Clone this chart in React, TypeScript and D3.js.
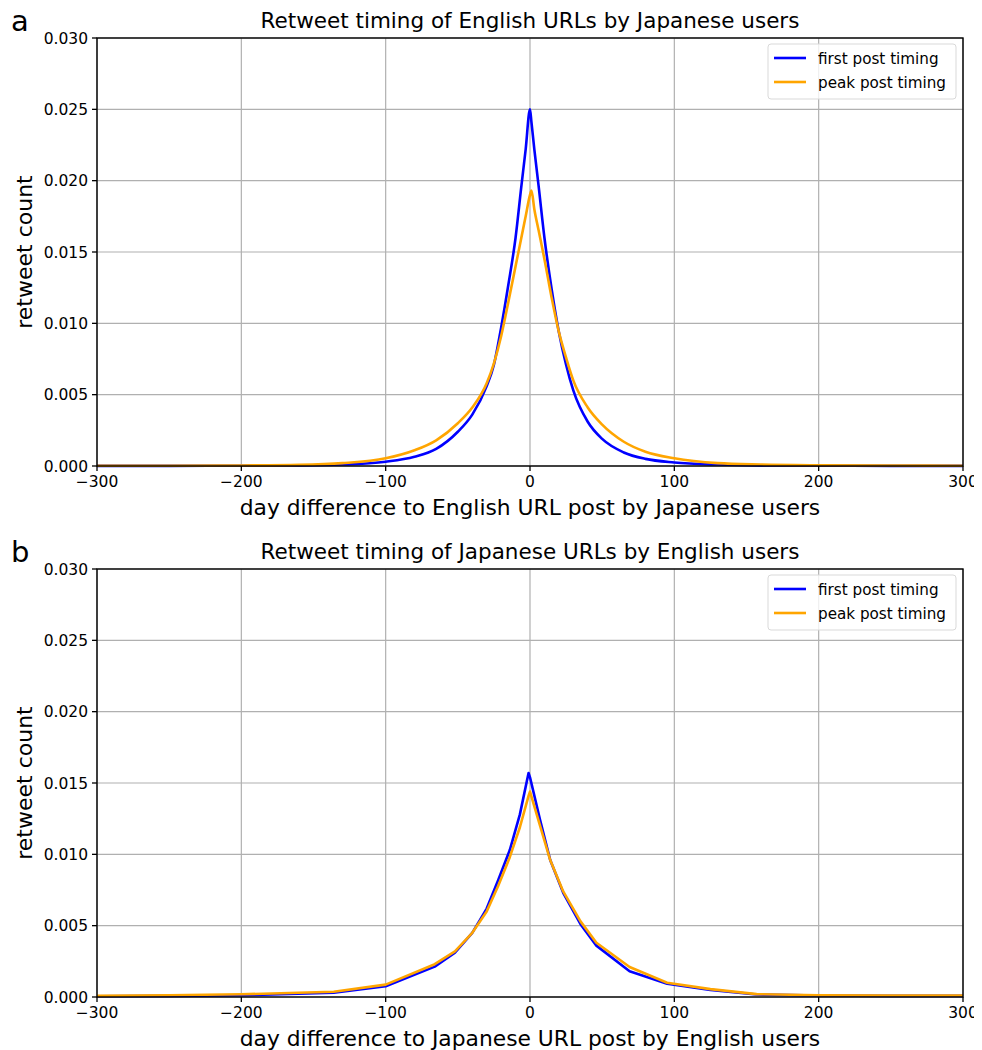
import React from 'react';
import * as d3 from 'd3';

// panel a: English URLs retweeted by Japanese users
const daysA = [-300, -250, -200, -160, -130, -100, -80, -65, -50, -40, -30, -25, -20, -15, -10, -6, -3, 0, 1, 3, 6, 10, 15, 20, 25, 30, 40, 50, 65, 80, 100, 130, 160, 200, 250, 300];
const firstA = [0.00001, 0.00001, 0.00002, 0.00004, 0.0001, 0.0003, 0.00065, 0.0012, 0.0024, 0.0036, 0.0056, 0.0071, 0.0097, 0.0127, 0.016, 0.0196, 0.0222, 0.025, 0.0241, 0.0222, 0.0196, 0.016, 0.0124, 0.0094, 0.0071, 0.0053, 0.0031, 0.0019, 0.00095, 0.0005, 0.00025, 0.0001, 0.00004, 0.00002, 0.00001, 0.00001];
const peakA = [0.00002, 0.00002, 0.00004, 0.00008, 0.0002, 0.00054, 0.0011, 0.0018, 0.003, 0.0041, 0.0058, 0.0072, 0.0091, 0.0115, 0.014, 0.016, 0.0175, 0.019, 0.0193, 0.018, 0.0165, 0.0145, 0.0118, 0.0094, 0.0076, 0.006, 0.0041, 0.0029, 0.0017, 0.001, 0.00054, 0.0002, 0.0001, 0.00005, 0.00003, 0.00002];

// panel b: Japanese URLs retweeted by English users
const daysB = [-300, -250, -200, -136, -100, -66, -52, -40, -30, -22, -14, -7, -1, 0, 7, 14, 23, 35, 46, 69, 95, 125, 157, 200, 250, 300];
const firstB = [0.00005, 0.00008, 0.00012, 0.0003, 0.00075, 0.00213, 0.0031, 0.0045, 0.0062, 0.0082, 0.0103, 0.0128, 0.0157, 0.0154, 0.0124, 0.0096, 0.0073, 0.0051, 0.0036, 0.0018, 0.00093, 0.0005, 0.00017, 0.0001, 0.00008, 0.00008];
const peakB = [0.00008, 0.00012, 0.00019, 0.00037, 0.00087, 0.0023, 0.0032, 0.0045, 0.006, 0.0078, 0.0098, 0.0119, 0.0141, 0.0144, 0.012, 0.0096, 0.0074, 0.0053, 0.0038, 0.0021, 0.001, 0.00055, 0.0002, 0.00012, 0.0001, 0.0001];

const xTicks = [-300, -200, -100, 0, 100, 200, 300];
const yTicks = [0, 0.005, 0.01, 0.015, 0.02, 0.025, 0.03];
const seriesNames = ['first post timing', 'peak post timing'];
const colors = ['#0000ff', '#ffa500'];

const FONT = 'DejaVu Sans, sans-serif';
const left = 97, right = 963;

type PanelProps = {
  top: number;
  letter: string;
  title: string;
  xlabel: string;
  days: number[];
  series: number[][];
  smooth: boolean;
};

const Panel = ({ top, letter, title, xlabel, days, series, smooth }: PanelProps) => {
  const h = 428;
  const x = d3.scaleLinear().domain([-300, 300]).range([left, right]);
  const y = d3.scaleLinear().domain([0, 0.03]).range([top + h, top]);
  const line = d3.line<number>()
    .x((_, i) => x(days[i]))
    .y(d => y(d))
    .curve(smooth ? d3.curveMonotoneX : d3.curveLinear);
  const fmt = (v: number) => String(v).replace('-', '\u2212');

  return (
    <g>
      <text x={11} y={top - 7} fontSize={29} fontFamily={FONT}>{letter}</text>
      <text x={(left + right) / 2} y={top - 10} fontSize={21.5} textAnchor="middle" fontFamily={FONT}>{title}</text>
      {xTicks.map(t => (
        <line key={'gx' + t} x1={x(t)} x2={x(t)} y1={top} y2={top + h} stroke="#b0b0b0" strokeWidth={1.2} />
      ))}
      {yTicks.map(t => (
        <line key={'gy' + t} x1={left} x2={right} y1={y(t)} y2={y(t)} stroke="#b0b0b0" strokeWidth={1.2} />
      ))}
      {series.map((s, k) => (
        <path key={k} d={line(s) || ''} fill="none" stroke={colors[k]} strokeWidth={2.6} strokeLinejoin="round" />
      ))}
      <rect x={left} y={top} width={right - left} height={h} fill="none" stroke="#000" strokeWidth={1.4} />
      {xTicks.map(t => (
        <g key={'tx' + t}>
          <line x1={x(t)} x2={x(t)} y1={top + h} y2={top + h + 5} stroke="#000" strokeWidth={1.3} />
          <text x={x(t)} y={top + h + 21} fontSize={15.5} textAnchor="middle" fontFamily={FONT}>{fmt(t)}</text>
        </g>
      ))}
      {yTicks.map(t => (
        <g key={'ty' + t}>
          <line x1={left - 5} x2={left} y1={y(t)} y2={y(t)} stroke="#000" strokeWidth={1.3} />
          <text x={left - 9} y={y(t) + 5.5} fontSize={15.5} textAnchor="end" fontFamily={FONT}>{t.toFixed(3)}</text>
        </g>
      ))}
      <text x={(left + right) / 2} y={top + h + 49} fontSize={21.8} textAnchor="middle" fontFamily={FONT}>{xlabel}</text>
      <text transform={`translate(32,${top + h / 2}) rotate(-90)`} fontSize={22} textAnchor="middle" fontFamily={FONT}>retweet count</text>
      <g transform={`translate(768,${top + 6})`}>
        <rect x={0} y={0} width={188} height={55} rx={3} fill="#fff" fillOpacity={0.8} stroke="#d9d9d9" strokeWidth={1} />
        {seriesNames.map((n, k) => (
          <g key={n}>
            <line x1={6} x2={38} y1={14 + k * 24} y2={14 + k * 24} stroke={colors[k]} strokeWidth={2.6} />
            <text x={50} y={19.5 + k * 24} fontSize={15.2} fontFamily={FONT}>{n}</text>
          </g>
        ))}
      </g>
    </g>
  );
};

export default function App() {
  return (
    <svg width={982} height={1050} style={{ display: 'block', marginLeft: -8, marginTop: -8 }}>
      <rect width={982} height={1050} fill="#fff" />
      <Panel top={38} letter="a" title="Retweet timing of English URLs by Japanese users"
        xlabel="day difference to English URL post by Japanese users"
        days={daysA} series={[firstA, peakA]} smooth={true} />
      <Panel top={569} letter="b" title="Retweet timing of Japanese URLs by English users"
        xlabel="day difference to Japanese URL post by English users"
        days={daysB} series={[firstB, peakB]} smooth={false} />
    </svg>
  );
}
